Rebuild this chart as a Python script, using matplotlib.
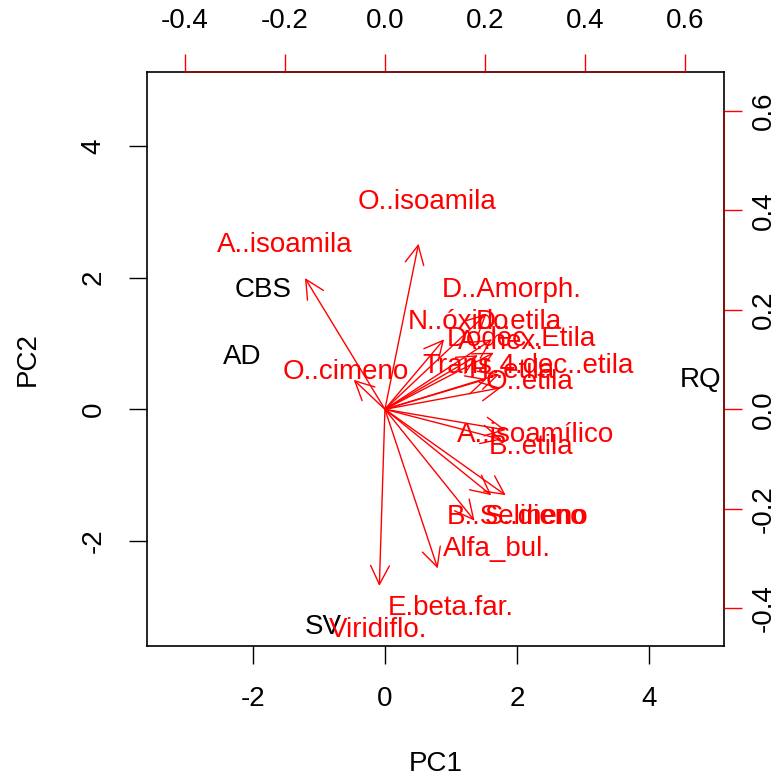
import matplotlib
matplotlib.use("Agg")
import matplotlib.pyplot as plt

plt.rcParams["font.family"] = ["Liberation Sans", "DejaVu Sans"]
plt.rcParams["axes.unicode_minus"] = False

# sample scores (PC1, PC2)
samples = ["CBS", "AD", "RQ", "SV"]
pc1_scores = [-1.84, -2.16, 4.77, -0.94]
pc2_scores = [1.81, 0.80, 0.45, -3.31]

# variable loadings (PC1, PC2)
variables = ["A..isoamila", "O..isoamila", "O..cimeno", "D..Amorph.", "N..óxido",
             "D..etila", "Dodec..Etila", "A..hex.", "Trans.4.dec..etila", "H..etila",
             "O..etila", "A..isoamílico", "B..etila", "B..Selineno", "S..dieno",
             "Alfa_bul.", "E.beta.far.", "Viridiflo."]
pc1_load = [-0.200, 0.084, -0.078, 0.254, 0.148,
            0.268, 0.272, 0.232, 0.286, 0.254,
            0.290, 0.302, 0.292, 0.266, 0.302,
            0.224, 0.132, -0.014]
pc2_load = [0.330, 0.416, 0.074, 0.240, 0.176,
            0.176, 0.142, 0.136, 0.088, 0.076,
            0.054, -0.052, -0.076, -0.216, -0.216,
            -0.280, -0.400, -0.444]

score_lim = (-3.6, 5.13)
ratio = 7.565
load_lim = (score_lim[0] / ratio, score_lim[1] / ratio)

FS = 20
RED = "#FF0000"

fig = plt.figure(figsize=(7.8, 7.76), dpi=100)
pos = [147 / 780, 130 / 776, 577 / 780, 574 / 776]

ax = fig.add_axes(pos)
ax.set_xlim(score_lim)
ax.set_ylim(score_lim)
ax.set_xticks([-2, 0, 2, 4])
ax.set_yticks([-2, 0, 2, 4])
ax.tick_params(direction="out", length=13, width=1.0, labelsize=FS, pad=16)
for lbl in ax.get_yticklabels():
    lbl.set_rotation(90)
    lbl.set_va("center")
for s in ax.spines.values():
    s.set_linewidth(1.2)
ax.set_xlabel("PC1", fontsize=FS, labelpad=28)
ax.set_ylabel("PC2", fontsize=FS, labelpad=29)

for name, x, y in zip(samples, pc1_scores, pc2_scores):
    ax.text(x, y, name, fontsize=FS, color="black", ha="center", va="center",
            clip_on=True)

# loadings on their own scale (top and right axes)
ax2 = fig.add_axes(pos, frameon=True)
ax2.patch.set_visible(False)
ax2.set_xlim(load_lim)
ax2.set_ylim(load_lim)
ax2.xaxis.tick_top()
ax2.yaxis.tick_right()
ticks = [-0.4, -0.2, 0.0, 0.2, 0.4, 0.6]
ax2.set_xticks(ticks)
ax2.set_yticks(ticks)
ax2.set_xticklabels([f"{t:.1f}" for t in ticks])
ax2.set_yticklabels([f"{t:.1f}" for t in ticks])
ax2.tick_params(direction="out", length=13, width=1.0, color=RED,
                labelsize=FS, labelcolor="black")
ax2.tick_params(axis="x", pad=14)
ax2.tick_params(axis="y", pad=6)
for lbl in ax2.get_yticklabels():
    lbl.set_rotation(90)
    lbl.set_va("center")
ax2.spines["left"].set_visible(False)
ax2.spines["bottom"].set_visible(False)
for side in ("top", "right"):
    ax2.spines[side].set_color("#8B1010")
    ax2.spines[side].set_linewidth(1.2)
    ax2.spines[side].set_bounds(-0.4, 0.6)

for name, x, y in zip(variables, pc1_load, pc2_load):
    ax2.annotate("", xy=(0.8 * x, 0.8 * y), xytext=(0, 0),
                 arrowprops=dict(arrowstyle="->,head_length=0.9,head_width=0.45",
                                 color=RED, lw=1.0, shrinkA=0, shrinkB=0,
                                 mutation_scale=15))
    ax2.text(x, y, name, fontsize=FS, color=RED, ha="center", va="center",
             clip_on=True)

fig.savefig("out.png", dpi=100)
